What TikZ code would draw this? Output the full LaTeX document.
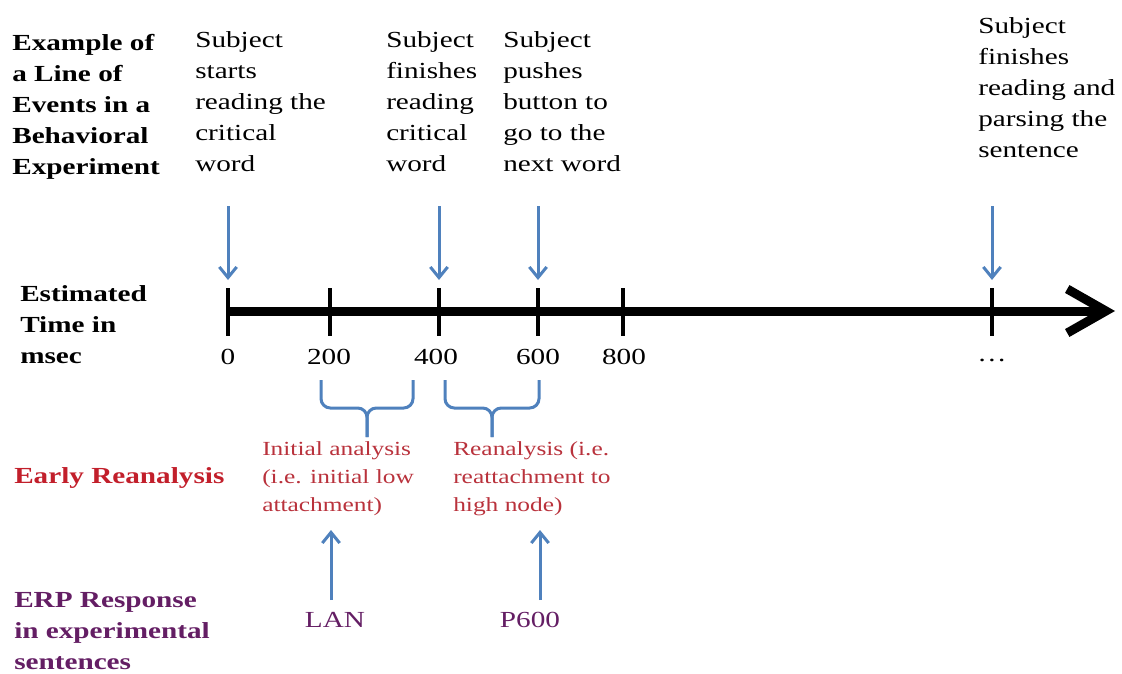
\documentclass[tikz,border=0pt]{standalone}
\usepackage{fontspec}
\setmainfont{Liberation Serif}[FakeStretch=1.27]
\usetikzlibrary{arrows.meta}
\definecolor{arrowblue}{HTML}{4F81BD}
\definecolor{reanred}{HTML}{C21F2B}
\definecolor{notered}{HTML}{B9323C}
\definecolor{erppurple}{HTML}{641E64}

\begin{document}
\begin{tikzpicture}[x=0.75pt,y=-0.75pt,
  every node/.style={inner sep=0pt},
  maintext/.style={font=\fontsize{17.25}{23.25}\selectfont, align=left, anchor=north west},
  headtext/.style={maintext, font=\fontsize{17.25}{23.25}\selectfont\bfseries},
  notetext/.style={font=\fontsize{15}{21}\selectfont, align=left, anchor=north west, text=notered},
  numtext/.style={font=\fontsize{17.25}{23.25}\selectfont},
  bluearrow/.style={draw=arrowblue, line width=2.25pt, -{Straight Barb[length=8pt,width=13pt]}},
  bracket/.style={draw=arrowblue, line width=2.25pt, rounded corners=7pt},
  timetick/.style={line width=2.6pt}]
\useasboundingbox (0,0) rectangle (1122,674);

%axis
\coordinate (tstart) at (228,311);
\coordinate (tend) at (1115,311);
\draw[line width=6.75pt, -{Straight Barb[length=29pt,width=33pt]}] (tstart) -- (tend);

%ticks
\foreach \x/\n in {228/0, 330/200, 439/400, 538/600, 623/800, 992/end}{
  \draw[timetick] (\x,288) -- (\x,336);
  \coordinate (top\n) at (\x,280);
}

%tick labels
\node[numtext] (l0) at (228,357) {0};
\node[numtext] (l200) at (329,357) {200};
\node[numtext] (l400) at (436,357) {400};
\node[numtext] (l600) at (538,357) {600};
\node[numtext] (l800) at (624,357) {800};
\node[numtext] (lend) at (992,360) {\dots};

%row titles
\node[headtext] (hexample) at (12,34) {Example of\\a Line of\\Events in a\\Behavioral\\Experiment};
\node[headtext] (htime) at (20,285) {Estimated\\Time in\\msec};
\node[headtext, text=reanred] (hrean) at (14,467) {Early Reanalysis};
\node[headtext, text=erppurple] (herp) at (14,592) {ERP Response\\in experimental\\sentences};

%events
\node[maintext] (ev0) at (195,31) {Subject\\starts\\reading the\\critical\\word};
\node[maintext] (ev400) at (386,31) {Subject\\finishes\\reading\\critical\\word};
\node[maintext] (ev600) at (503,31) {Subject\\pushes\\button to\\go to the\\next word};
\node[maintext] (evend) at (978,17) {Subject\\finishes\\reading and\\parsing the\\sentence};

\foreach \x/\n in {228/0, 439/400, 538/600, 992/end}{
  \coordinate (from\n) at (\x,206);
  \draw[bluearrow] (from\n) -- (top\n);
}

%braces
\draw[bracket] (321,380) -- (321,408) -- (367,408) -- (367,437);
\draw[bracket] (413,380) -- (413,408) -- (367,408) -- (367,437);
\draw[bracket] (445,380) -- (445,408) -- (492,408) -- (492,437);
\draw[bracket] (539,380) -- (539,408) -- (492,408) -- (492,437);

%reanalysis notes
\node[notetext] (lowana) at (262,441) {Initial analysis\\(i.e. initial low\\attachment)};
\node[notetext] (highana) at (453,441) {Reanalysis (i.e.\\reattachment to\\high node)};

%erp
\node[numtext, text=erppurple] (lan) at (335,620) {LAN};
\node[numtext, text=erppurple] (ppeak) at (530,620) {P600};
\coordinate (lanfoot) at (331,600);
\coordinate (lantip) at (331,530);
\coordinate (pfoot) at (540,600);
\coordinate (ptip) at (540,530);
\draw[bluearrow] (lanfoot) -- (lantip);
\draw[bluearrow] (pfoot) -- (ptip);
\end{tikzpicture}
\end{document}
